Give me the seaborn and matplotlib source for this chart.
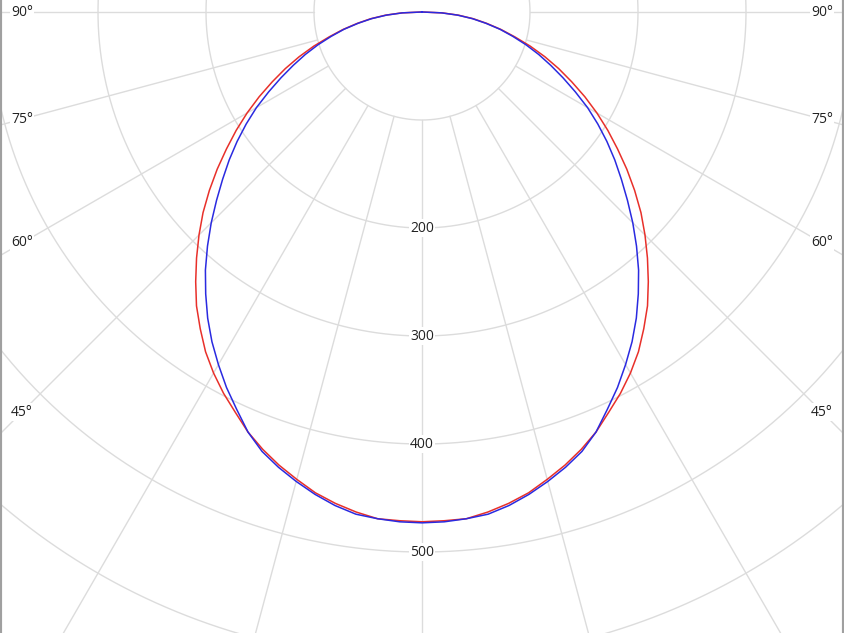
import numpy as np
import pandas as pd
import matplotlib
matplotlib.use("Agg")
import matplotlib.pyplot as plt
import seaborn as sns

# ---- data ----
gamma_deg = [0, 2.5, 5, 7.5, 10, 12.5, 15, 17.5, 20, 22.5, 25, 27.5, 30, 32.5, 35, 37.5,
             40, 42.5, 45, 47.5, 50, 52.5, 55, 57.5, 60, 62.5, 65, 67.5, 70, 72.5, 75,
             77.5, 80, 82.5, 85, 87.5, 90]
intensity_red = [472, 471.5, 471, 467, 462, 456, 448, 440, 431, 421, 409, 398, 386, 373, 358, 343,
                 326, 309, 292, 275, 257, 239, 221, 204, 187, 170, 153, 137, 121, 105, 89,
                 75, 61, 48, 34, 19, 0]
intensity_blue = [473, 472.5, 471, 469, 464, 457.5, 450, 442, 433, 421, 406, 392, 377, 362, 346, 329,
                  312, 294, 276, 258, 241, 225, 209, 193, 177, 160, 144, 129, 115, 101, 87,
                  74, 60, 47, 33, 18, 0]
plane_names = ["C0-C180", "C90-C270"]
ring_values = [100, 200, 300, 400, 500, 600, 700]
ring_label_values = [200, 300, 400, 500]
spoke_angles = [-90, -75, -60, -45, -30, -15, 0, 15, 30, 45, 60, 75, 90]
edge_label_angles = [90, 75, 60, 45]

sns.set_style("white")
plt.rcParams['font.family'] = ['Open Sans', 'DejaVu Sans']

PX = 1.08            # pixels per unit
W, H = 844, 633
CX, CY = 422, 12     # centre in pixels

fig = plt.figure(figsize=(W / 100, H / 100), dpi=100)
ax = fig.add_axes([0, 0, 1, 1])
ax.set_xlim(-CX / PX, (W - CX) / PX)
ax.set_ylim(-(H - CY) / PX, CY / PX)

grid_col = "#dcdcdc"
t = np.linspace(0, 2 * np.pi, 1441)
for r in ring_values:
    ax.plot(r * np.sin(t), r * np.cos(t), color=grid_col, lw=1.0, zorder=1)
for a in spoke_angles:
    ar = np.radians(a)
    ax.plot([100 * np.sin(ar), 900 * np.sin(ar)], [-100 * np.cos(ar), -900 * np.cos(ar)],
            color=grid_col, lw=1.0, zorder=1)

bbox = dict(facecolor="white", edgecolor="none", pad=1.0)
for r in ring_label_values:
    ax.text(0, -r, str(r), ha="center", va="center", fontsize=10, color="#222222",
            bbox=bbox, zorder=2)

x_edge = 400 / PX
for a in edge_label_angles:
    y = 0.0 if a == 90 else -x_edge / np.tan(np.radians(a))
    for sx in (-1, 1):
        ax.text(sx * x_edge, y, f"{a}°", ha="center", va="center", fontsize=10,
                color="#222222", bbox=bbox, zorder=2)

# ---- curves ----
rows = []
for name, vals in zip(plane_names, [intensity_red, intensity_blue]):
    g = np.array(gamma_deg, dtype=float)
    v = np.array(vals, dtype=float)
    ang = np.concatenate([-g[::-1], g[1:]])
    val = np.concatenate([v[::-1], v[1:]])
    rad = np.radians(ang)
    for i, (ri, ai) in enumerate(zip(val, rad)):
        rows.append({"plane": name, "order": i, "x": ri * np.sin(ai), "y": -ri * np.cos(ai)})
df = pd.DataFrame(rows)

sns.lineplot(data=df, x="x", y="y", hue="plane",
             palette={"C0-C180": "#e8302a", "C90-C270": "#2a2ae0"},
             sort=False, estimator=None, legend=False, lw=1.1, ax=ax, zorder=3)

ax.set_xlabel("")
ax.set_ylabel("")
ax.set_xticks([])
ax.set_yticks([])
for s in ("top", "bottom"):
    ax.spines[s].set_visible(False)
for s in ("left", "right"):
    ax.spines[s].set_visible(True)
    ax.spines[s].set_color("#a0a0a0")
    ax.spines[s].set_linewidth(3)

fig.savefig("out.png", dpi=100)
